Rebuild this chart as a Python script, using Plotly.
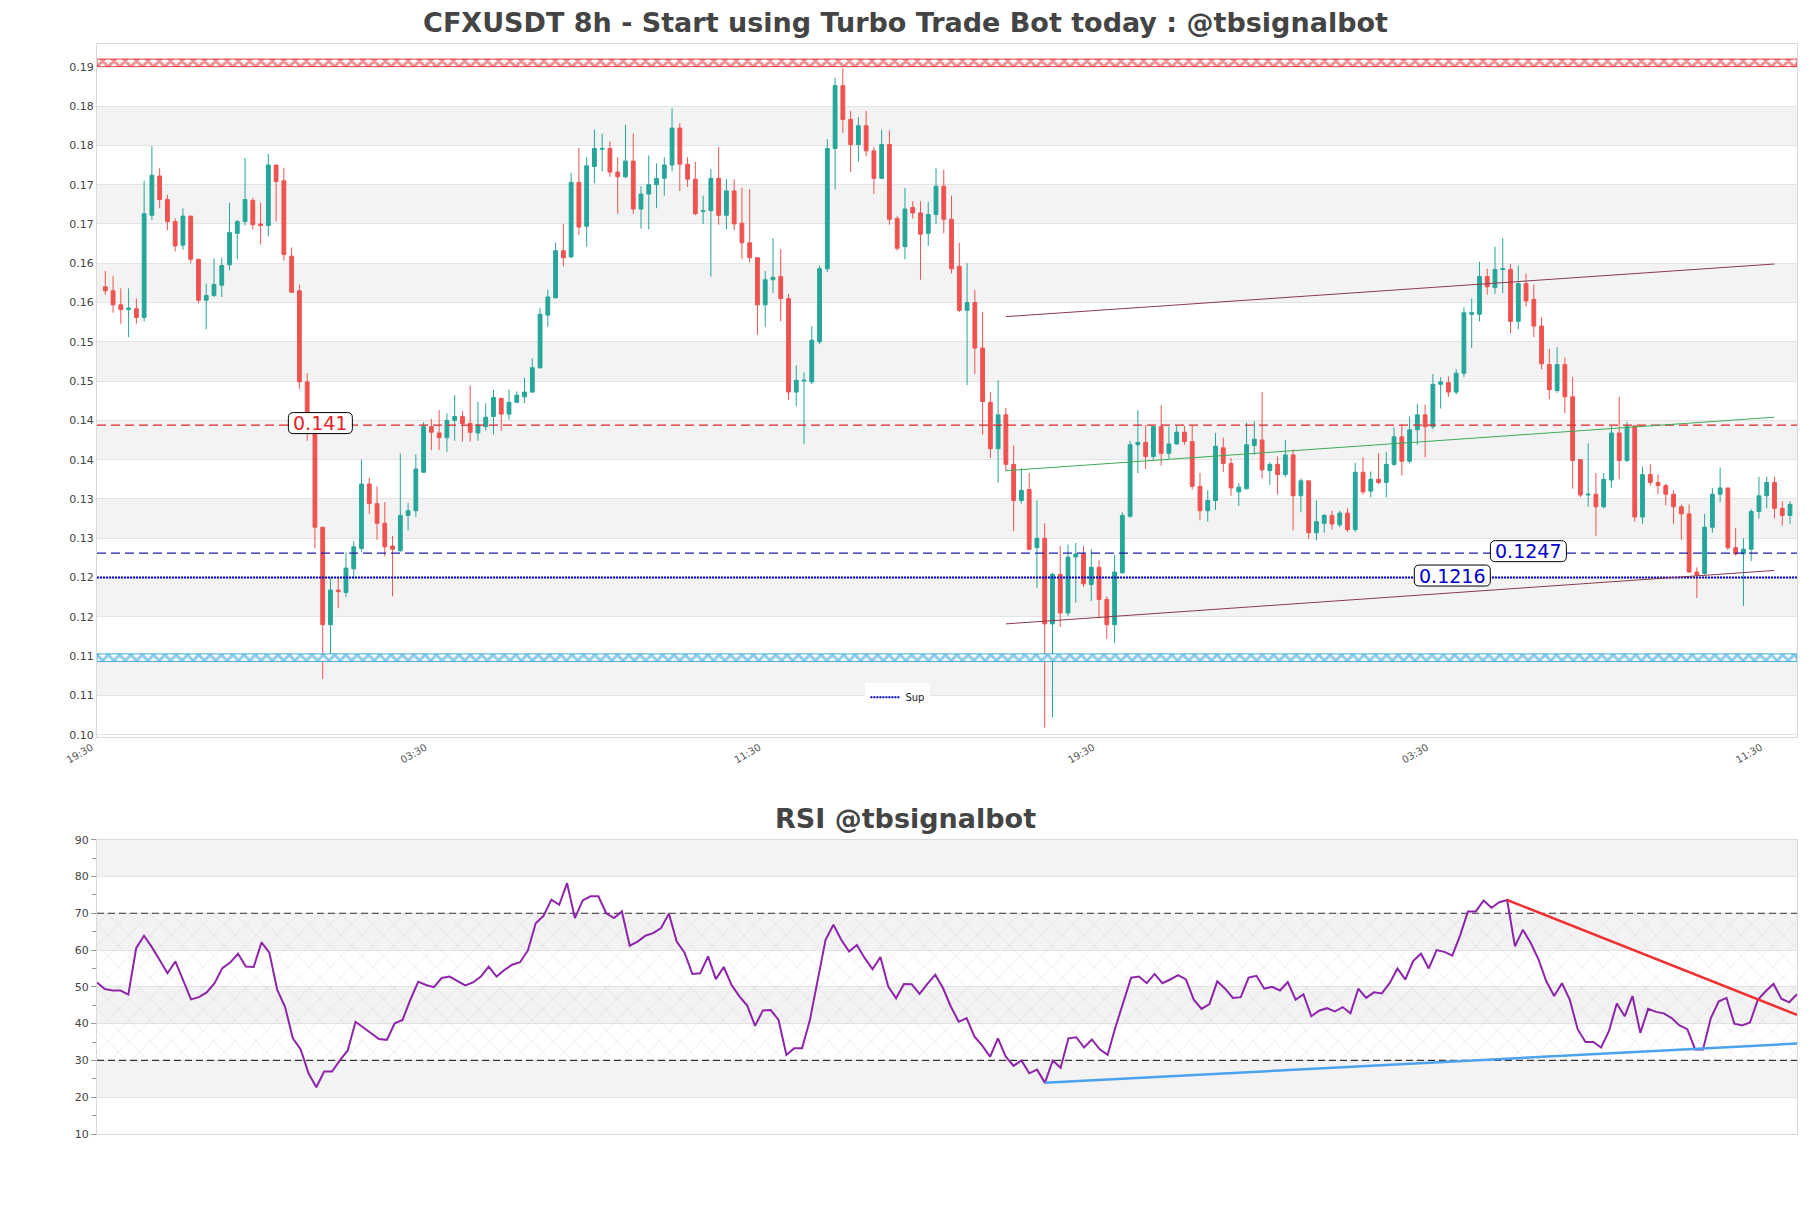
import numpy as np
import pandas as pd
import plotly.graph_objects as go

# ---------------- data ----------------
opens = [0.1586,0.1581,0.1563,0.1557,0.1558,0.1547,0.1677,0.1727,0.1697,0.1669,
         0.1639,0.1676,0.1621,0.1569,0.1575,0.1588,0.1614,0.1654,0.1669,0.1696,
         0.1666,0.1664,0.1741,0.1721,0.1625,0.1581,0.1465,0.1400,0.1280,0.1156,
         0.1200,0.1197,0.1227,0.1253,0.1335,0.1310,0.1285,0.1256,0.1250,0.1295,
         0.1301,0.1350,0.1408,0.1400,0.1394,0.1416,0.1421,0.1412,0.1400,0.1408,
         0.1421,0.1444,0.1424,0.1439,0.1446,0.1452,0.1483,0.1550,0.1572,0.1632,
         0.1624,0.1719,0.1663,0.1739,0.1761,0.1762,0.1732,0.1726,0.1746,0.1685,
         0.1704,0.1716,0.1724,0.1741,0.1788,0.1742,0.1723,0.1682,0.1683,0.1724,
         0.1677,0.1708,0.1667,0.1642,0.1623,0.1563,0.1595,0.1599,0.1571,0.1452,
         0.1466,0.1465,0.1516,0.1609,0.1762,0.1842,0.1799,0.1767,0.1791,0.1759,
         0.1724,0.1767,0.1673,0.1637,0.1687,0.1680,0.1654,0.1678,0.1714,0.1672,
         0.1612,0.1556,0.1566,0.1508,0.1439,0.1380,0.1423,0.1360,0.1314,0.1328,
         0.1254,0.1266,0.1157,0.1220,0.1171,0.1242,0.1246,0.1207,0.1229,0.1188,
         0.1156,0.1222,0.1294,0.1385,0.1388,0.1370,0.1408,0.1374,0.1386,0.1401,
         0.1389,0.1332,0.1301,0.1314,0.1381,0.1361,0.1325,0.1329,0.1384,0.1391,
         0.1352,0.1360,0.1347,0.1372,0.1320,0.1339,0.1273,0.1285,0.1295,0.1283,
         0.1298,0.1277,0.1350,0.1326,0.1341,0.1337,0.1360,0.1395,0.1364,0.1404,
         0.1423,0.1408,0.1462,0.1464,0.1452,0.1476,0.1551,0.1551,0.1599,0.1585,
         0.1608,0.1608,0.1542,0.1590,0.1570,0.1536,0.1487,0.1454,0.1487,0.1446,
         0.1366,0.1321,0.1322,0.1306,0.1340,0.1400,0.1365,0.1409,0.1293,0.1347,
         0.1337,0.1333,0.1322,0.1306,0.1297,0.1223,0.1221,0.1280,0.1322,0.1330,
         0.1254,0.1246,0.1252,0.1300,0.1320,0.1337,0.1304,0.1295]
highs = [0.1606,0.1600,0.1584,0.1584,0.1571,0.1721,0.1765,0.1737,0.1703,0.1673,
         0.1686,0.1676,0.1621,0.1590,0.1622,0.1623,0.1693,0.1671,0.1750,0.1699,
         0.1693,0.1755,0.1741,0.1737,0.1636,0.1589,0.1476,0.1400,0.1280,0.1216,
         0.1216,0.1248,0.1262,0.1366,0.1343,0.1332,0.1312,0.1269,0.1374,0.1311,
         0.1373,0.1414,0.1418,0.1429,0.1425,0.1448,0.1428,0.1460,0.1440,0.1438,
         0.1455,0.1445,0.1455,0.1453,0.1470,0.1495,0.1559,0.1582,0.1642,0.1666,
         0.1731,0.1763,0.1751,0.1786,0.1781,0.1771,0.1751,0.1792,0.1781,0.1714,
         0.1753,0.1743,0.1751,0.1813,0.1794,0.1751,0.1745,0.1702,0.1736,0.1764,
         0.1723,0.1723,0.1712,0.1710,0.1623,0.1606,0.1648,0.1634,0.1577,0.1486,
         0.1477,0.1536,0.1613,0.1774,0.1852,0.1864,0.1810,0.1802,0.1810,0.1764,
         0.1786,0.1785,0.1676,0.1712,0.1695,0.1695,0.1694,0.1737,0.1735,0.1702,
         0.1642,0.1616,0.1582,0.1554,0.1452,0.1467,0.1432,0.1384,0.1355,0.1349,
         0.1314,0.1285,0.1222,0.1256,0.1258,0.1260,0.1256,0.1252,0.1238,0.1192,
         0.1245,0.1299,0.1390,0.1429,0.1410,0.1409,0.1435,0.1408,0.1409,0.1409,
         0.1409,0.1349,0.1327,0.1400,0.1394,0.1368,0.1336,0.1413,0.1415,0.1452,
         0.1363,0.1370,0.1391,0.1379,0.1342,0.1339,0.1314,0.1297,0.1301,0.1301,
         0.1304,0.1362,0.1369,0.1351,0.1374,0.1376,0.1407,0.1411,0.1421,0.1437,
         0.1436,0.1475,0.1471,0.1472,0.1481,0.1560,0.1571,0.1618,0.1609,0.1637,
         0.1648,0.1615,0.1613,0.1603,0.1589,0.1547,0.1507,0.1509,0.1496,0.1471,
         0.1366,0.1387,0.1349,0.1349,0.1409,0.1446,0.1414,0.1410,0.1357,0.1360,
         0.1347,0.1335,0.1327,0.1309,0.1309,0.1229,0.1297,0.1330,0.1356,0.1330,
         0.1279,0.1266,0.1303,0.1344,0.1344,0.1344,0.1313,0.1313]
lows = [0.1576,0.1553,0.1539,0.1522,0.1539,0.1542,0.1671,0.1686,0.1658,0.1631,
        0.1633,0.1616,0.1565,0.1532,0.1573,0.1573,0.1607,0.1621,0.1664,0.1659,
        0.1640,0.1650,0.1669,0.1619,0.1579,0.1456,0.1390,0.1253,0.1087,0.1115,
        0.1177,0.1191,0.1214,0.1248,0.1297,0.1264,0.1243,0.1192,0.1249,0.1276,
        0.1293,0.1349,0.1378,0.1378,0.1376,0.1390,0.1389,0.1389,0.1390,0.1403,
        0.1398,0.1403,0.1417,0.1438,0.1438,0.1451,0.1482,0.1535,0.1571,0.1612,
        0.1623,0.1652,0.1637,0.1718,0.1733,0.1726,0.1679,0.1724,0.1679,0.1660,
        0.1659,0.1686,0.1702,0.1733,0.1708,0.1713,0.1677,0.1666,0.1599,0.1665,
        0.1659,0.1658,0.1621,0.1617,0.1525,0.1535,0.1578,0.1542,0.1442,0.1434,
        0.1386,0.1462,0.1513,0.1605,0.1710,0.1782,0.1732,0.1745,0.1752,0.1704,
        0.1723,0.1665,0.1632,0.1621,0.1673,0.1595,0.1638,0.1666,0.1654,0.1603,
        0.1554,0.1461,0.1475,0.1398,0.1368,0.1337,0.1351,0.1275,0.1310,0.1251,
        0.1203,0.1025,0.1038,0.1153,0.1167,0.1184,0.1204,0.1186,0.1164,0.1138,
        0.1133,0.1221,0.1292,0.1349,0.1354,0.1366,0.1358,0.1367,0.1385,0.1385,
        0.1328,0.1289,0.1287,0.1302,0.1350,0.1320,0.1307,0.1328,0.1372,0.1342,
        0.1334,0.1322,0.1344,0.1276,0.1299,0.1265,0.1263,0.1273,0.1277,0.1280,
        0.1274,0.1274,0.1322,0.1318,0.1335,0.1318,0.1358,0.1346,0.1361,0.1385,
        0.1369,0.1405,0.1431,0.1446,0.1449,0.1471,0.1508,0.1542,0.1576,0.1577,
        0.1578,0.1527,0.1532,0.1561,0.1522,0.1481,0.1443,0.1451,0.1425,0.1329,
        0.1318,0.1306,0.1269,0.1304,0.1330,0.1341,0.1363,0.1287,0.1284,0.1333,
        0.1322,0.1308,0.1284,0.1264,0.1222,0.1190,0.1219,0.1273,0.1312,0.1251,
        0.1244,0.1180,0.1237,0.1291,0.1304,0.1291,0.1282,0.1284]
closes = [0.1581,0.1563,0.1557,0.1559,0.1547,0.1679,0.1728,0.1697,0.1669,0.1638,
          0.1676,0.1621,0.1569,0.1575,0.1589,0.1613,0.1655,0.1669,0.1697,0.1665,
          0.1664,0.1741,0.1720,0.1627,0.1579,0.1465,0.1400,0.1280,0.1156,0.1200,
          0.1198,0.1228,0.1255,0.1335,0.1310,0.1285,0.1255,0.1252,0.1295,0.1301,
          0.1354,0.1408,0.1401,0.1394,0.1416,0.1421,0.1412,0.1401,0.1410,0.1420,
          0.1445,0.1424,0.1439,0.1448,0.1452,0.1483,0.1551,0.1573,0.1632,0.1623,
          0.1719,0.1662,0.1740,0.1762,0.1762,0.1732,0.1726,0.1746,0.1685,0.1704,
          0.1716,0.1724,0.1741,0.1788,0.1742,0.1723,0.1679,0.1683,0.1724,0.1677,
          0.1708,0.1666,0.1642,0.1623,0.1563,0.1595,0.1598,0.1571,0.1452,0.1467,
          0.1467,0.1518,0.1609,0.1762,0.1842,0.1799,0.1767,0.1791,0.1759,0.1724,
          0.1767,0.1672,0.1635,0.1685,0.1680,0.1653,0.1678,0.1714,0.1672,0.1609,
          0.1556,0.1566,0.1508,0.1440,0.1380,0.1423,0.1360,0.1314,0.1327,0.1252,
          0.1266,0.1157,0.1220,0.1171,0.1242,0.1246,0.1208,0.1229,0.1188,0.1156,
          0.1223,0.1295,0.1385,0.1388,0.1370,0.1408,0.1374,0.1386,0.1401,0.1389,
          0.1332,0.1301,0.1314,0.1383,0.1361,0.1330,0.1331,0.1385,0.1392,0.1353,
          0.1360,0.1347,0.1372,0.1320,0.1339,0.1273,0.1287,0.1295,0.1284,0.1298,
          0.1277,0.1350,0.1325,0.1341,0.1337,0.1360,0.1395,0.1364,0.1404,0.1423,
          0.1408,0.1462,0.1465,0.1452,0.1476,0.1553,0.1553,0.1599,0.1586,0.1608,
          0.1609,0.1542,0.1590,0.1568,0.1536,0.1488,0.1455,0.1487,0.1446,0.1365,
          0.1321,0.1322,0.1306,0.1341,0.1400,0.1365,0.1408,0.1293,0.1347,0.1337,
          0.1333,0.1322,0.1306,0.1297,0.1223,0.1219,0.1280,0.1322,0.1330,0.1254,
          0.1246,0.1252,0.1300,0.1320,0.1337,0.1304,0.1295,0.1309]
rsi = [51.2,49.4,49.0,49.0,47.9,60.5,63.9,60.8,57.3,53.7,
       56.9,51.5,46.6,47.2,48.5,51.0,55.1,56.6,59.0,55.5,
       55.4,62.1,59.3,49.2,44.6,36.0,33.0,26.5,22.7,27.0,
       27.0,30.0,32.7,40.5,39.0,37.4,35.8,35.6,40.1,41.0,
       46.5,51.4,50.5,49.9,52.4,52.8,51.7,50.4,51.2,52.8,
       55.5,52.8,54.6,56.0,56.7,59.9,67.3,69.3,73.7,72.3,
       78.2,68.7,73.5,74.6,74.6,70.0,68.7,70.5,61.2,62.3,
       63.9,64.6,66.0,69.9,62.3,59.3,53.5,53.7,58.3,52.1,
       55.4,50.5,47.4,44.9,39.4,43.6,43.7,41.0,31.5,33.3,
       33.3,41.0,51.9,62.8,66.9,62.8,59.6,61.4,57.8,54.8,
       58.1,50.1,46.9,50.8,50.7,48.1,50.8,53.3,49.6,44.6,
       40.5,41.5,36.5,34.0,31.0,36.0,31.0,28.5,30.0,26.5,
       27.5,23.9,30.0,28.0,36.0,36.3,33.5,35.7,33.0,31.5,
       39.0,46.0,52.5,52.8,51.0,53.5,51.0,52.0,53.2,52.0,
       46.5,44.0,45.3,51.5,49.5,47.0,47.2,52.5,53.0,49.5,
       50.0,49.0,51.3,46.5,48.0,42.0,43.5,44.2,43.3,44.5,
       42.8,49.5,47.0,48.5,48.2,51.0,55.0,52.0,57.0,59.0,
       55.0,60.0,59.5,58.5,64.0,70.5,70.5,73.5,71.5,73.0,
       73.6,61.0,65.5,62.0,57.5,51.5,47.5,51.0,46.5,38.5,
       35.0,35.0,33.5,38.0,45.5,42.0,47.5,37.5,44.0,43.2,
       42.8,41.5,39.5,38.5,33.0,33.0,41.5,46.0,47.0,40.0,
       39.5,40.3,46.5,48.8,50.8,46.8,45.8,48.0]

price_ticks = [0.1016,0.1066,0.1116,0.1166,0.1216,0.1266,0.1316,0.1366,0.1416,
               0.1466,0.1516,0.1566,0.1616,0.1666,0.1716,0.1766,0.1816,0.1866]
rsi_ticks = [10,20,30,40,50,60,70,80,90]
time_tick_idx = [-1, 42, 85, 128, 171, 214]

res_level = 0.141
sup_dash = 0.1247
sup_dot = 0.1216
top_zone = 0.1871
bottom_zone = 0.1114
zone_half = 0.00048

chan_idx = [116, 215]
chan_upper = [0.1548, 0.1615]
chan_mid = [0.1352, 0.1420]
chan_lower = [0.1157, 0.1225]

rsi_down_idx = [180, 217]
rsi_down_val = [73.6, 42.4]
rsi_up_idx = [121, 217]
rsi_up_val = [23.9, 34.6]

label_texts = ["0.141", "0.1247", "0.1216"]
label_levels = [res_level, sup_dash, sup_dot]
label_idx = [27.7, 183.3, 173.5]

# ---------------- helpers ----------------
base = pd.Timestamp("2024-03-02 03:30")
def t(i):
    return base + pd.Timedelta(hours=8 * i)

n = len(opens)
dates = [t(i) for i in range(n)]
x_lo, x_hi = t(-1.07), t(217.9)

fig = go.Figure()

GRAY = "#f3f3f3"
shapes = []
for k in range(1, len(price_ticks) - 1, 2):
    shapes.append(dict(type="rect", xref="x domain", yref="y", x0=0, x1=1,
                       y0=price_ticks[k], y1=price_ticks[k + 1],
                       fillcolor=GRAY, line_width=0, layer="below"))
for k in range(1, len(rsi_ticks) - 1, 2):
    shapes.append(dict(type="rect", xref="x2 domain", yref="y2", x0=0, x1=1,
                       y0=rsi_ticks[k], y1=rsi_ticks[k + 1],
                       fillcolor=GRAY, line_width=0, layer="below"))


def zone(center, color):
    lo, hi = center - zone_half, center + zone_half
    return go.Scatter(x=[x_lo, x_hi, x_hi, x_lo, x_lo], y=[lo, lo, hi, hi, lo],
                      mode="lines", fill="toself", fillcolor="rgba(255,255,255,0)",
                      fillpattern=dict(shape="x", fgcolor=color, bgcolor="white",
                                       size=8, solidity=0.6),
                      line=dict(color=color, width=0.8), hoverinfo="skip",
                      showlegend=False, xaxis="x", yaxis="y")

fig.add_trace(zone(top_zone, "#e01b22"))
fig.add_trace(zone(bottom_zone, "#1598d6"))

fig.add_trace(go.Candlestick(
    x=dates, open=opens, high=highs, low=lows, close=closes,
    increasing=dict(line=dict(color="#26a69a", width=1), fillcolor="#26a69a"),
    decreasing=dict(line=dict(color="#ef5350", width=1), fillcolor="#ef5350"),
    whiskerwidth=0, showlegend=False, xaxis="x", yaxis="y"))

fig.add_trace(go.Scatter(x=[x_lo, x_hi], y=[res_level] * 2, mode="lines",
                         line=dict(color="#e3242b", width=1.3, dash="9px,5px"),
                         showlegend=False, hoverinfo="skip"))
fig.add_trace(go.Scatter(x=[x_lo, x_hi], y=[sup_dash] * 2, mode="lines",
                         line=dict(color="#1c1ca8", width=1.3, dash="9px,5px"),
                         showlegend=False, hoverinfo="skip"))
fig.add_trace(go.Scatter(x=[x_lo, x_hi], y=[sup_dot] * 2, mode="lines", name="Sup",
                         line=dict(color="#0000cc", width=2.2, dash="2px,1px"),
                         showlegend=True, hoverinfo="skip"))

cx = [t(i) for i in chan_idx]
fig.add_trace(go.Scatter(x=cx, y=chan_upper, mode="lines",
                         line=dict(color="#8b3a4e", width=1), showlegend=False))
fig.add_trace(go.Scatter(x=cx, y=chan_mid, mode="lines",
                         line=dict(color="#3cab55", width=1), showlegend=False))
fig.add_trace(go.Scatter(x=cx, y=chan_lower, mode="lines",
                         line=dict(color="#8b3a4e", width=1), showlegend=False))

# RSI
r_lo, r_hi = t(0), t(n - 1)
fig.add_trace(go.Scatter(x=[r_lo, r_hi, r_hi, r_lo, r_lo], y=[30, 30, 70, 70, 30],
                         mode="lines", fill="toself", fillcolor="rgba(255,255,255,0)",
                         fillpattern=dict(shape="x", fgcolor="rgba(195,160,212,0.85)",
                                          bgcolor="rgba(0,0,0,0)", size=15, solidity=0.07),
                         line=dict(width=0), showlegend=False, hoverinfo="skip",
                         xaxis="x2", yaxis="y2"))
for lv in (70, 30):
    fig.add_trace(go.Scatter(x=[r_lo, r_hi], y=[lv, lv], mode="lines",
                             line=dict(color="#333333", width=1.2, dash="7px,4px"),
                             showlegend=False, hoverinfo="skip", xaxis="x2", yaxis="y2"))
fig.add_trace(go.Scatter(x=dates, y=rsi, mode="lines",
                         line=dict(color="#8e24aa", width=2), showlegend=False,
                         xaxis="x2", yaxis="y2"))
fig.add_trace(go.Scatter(x=[t(i) for i in rsi_down_idx], y=rsi_down_val, mode="lines",
                         line=dict(color="#f03030", width=2.5), showlegend=False,
                         xaxis="x2", yaxis="y2"))
fig.add_trace(go.Scatter(x=[t(i) for i in rsi_up_idx], y=rsi_up_val, mode="lines",
                         line=dict(color="#4aa3ee", width=2.5), showlegend=False,
                         xaxis="x2", yaxis="y2"))


def rounded_box(w, h, r, dy):
    x0, x1 = -w / 2, w / 2
    y0, y1 = -h / 2 + dy, h / 2 + dy
    return (f"M {x0+r},{y0} L {x1-r},{y0} Q {x1},{y0} {x1},{y0+r} "
            f"L {x1},{y1-r} Q {x1},{y1} {x1-r},{y1} L {x0+r},{y1} "
            f"Q {x0},{y1} {x0},{y1-r} L {x0},{y0+r} Q {x0},{y0} {x0+r},{y0} Z")


annotations = []
label_colors = ["#e3242b", "#0000cc", "#0000cc"]
for txt, lv, ix, col in zip(label_texts, label_levels, label_idx, label_colors):
    w = 12.0 * len(txt) + 4
    shapes.append(dict(type="path", xref="x", yref="y", xsizemode="pixel",
                       ysizemode="pixel", xanchor=t(ix), yanchor=lv,
                       path=rounded_box(w, 21, 5, 2), fillcolor="white",
                       line=dict(color="black", width=1), layer="above"))
    annotations.append(dict(x=t(ix), y=lv, xref="x", yref="y", text=txt, showarrow=False,
                            font=dict(family="DejaVu Sans", size=19, color=col),
                            xanchor="center", yanchor="middle", yshift=2))
annotations.append(dict(text="<b>RSI @tbsignalbot</b>", xref="paper", yref="paper",
                        x=0.4756, y=0.289, showarrow=False, xanchor="center",
                        yanchor="middle",
                        font=dict(family="DejaVu Sans", size=27, color="#444444")))

axis_common = dict(showline=True, mirror=True, linecolor="#d9d9d9", linewidth=1,
                   zeroline=False)
fig.update_layout(
    width=1811, height=1208,
    margin=dict(l=97, r=14, t=44, b=74),
    paper_bgcolor="white", plot_bgcolor="white",
    title=dict(text="<b>CFXUSDT 8h - Start using Turbo Trade Bot today : @tbsignalbot</b>",
               x=0.5, xanchor="center", y=1 - 23 / 1208, yanchor="middle",
               font=dict(family="DejaVu Sans", size=27, color="#444444")),
    shapes=shapes, annotations=annotations,
    showlegend=True,
    legend=dict(x=0.452, y=0.414, xanchor="left", yanchor="top",
                bgcolor="white", font=dict(family="DejaVu Sans", size=10, color="#222")),
    xaxis=dict(domain=[0, 1], anchor="y", type="date", range=[x_lo, x_hi],
               tickmode="array", tickvals=[t(i) for i in time_tick_idx],
               ticktext=[t(i).strftime("%H:%M") for i in time_tick_idx],
               tickangle=-30, showgrid=False, rangeslider=dict(visible=False),
               ticklabelshift=-6,
               tickfont=dict(family="DejaVu Sans", size=10, color="#555"), **axis_common),
    yaxis=dict(domain=[0.3642, 1], anchor="x", range=[0.1013, 0.1895],
               tickmode="array", tickvals=price_ticks, tickformat=".2f",
               showgrid=True, gridcolor="#e3e3e3",
               tickfont=dict(family="DejaVu Sans", size=11, color="#444"), **axis_common),
    xaxis2=dict(domain=[0, 1], anchor="y2", type="date", range=[r_lo, r_hi],
                showticklabels=False, showgrid=False, **axis_common),
    yaxis2=dict(domain=[0, 0.27], anchor="x2", range=[10, 90],
                tickmode="array", tickvals=rsi_ticks, showgrid=True, gridcolor="#e3e3e3",
                ticks="outside", ticklen=5, tickcolor="#999",
                minor=dict(tickvals=[15, 25, 35, 45, 55, 65, 75, 85], ticks="outside",
                           ticklen=4, tickcolor="#999", showgrid=False),
                tickfont=dict(family="DejaVu Sans", size=11, color="#444"), **axis_common),
)

fig.write_html("out.html")
